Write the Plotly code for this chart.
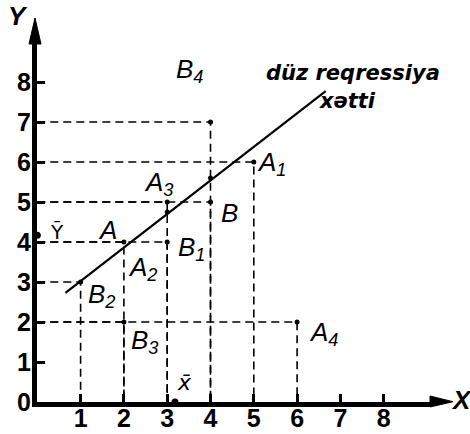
import plotly.graph_objects as go

# ---- data ----
point_names = ["B4", "A1", "B", "A3", "A", "B1", "B2", "B3", "A4"]
point_x = [4, 5, 4, 3, 2, 3, 1, 2, 6]
point_y = [7, 6, 5, 5, 4, 4, 3, 2, 2]

line_x = [0.65, 6.66]
line_y = [2.73, 7.77]

fitted_x = [3, 4]
fitted_y = [4.75, 5.6]

mean_x = 3.18
mean_y = 4.17

x_ticks = [1, 2, 3, 4, 5, 6, 7, 8]
y_ticks = [0, 1, 2, 3, 4, 5, 6, 7, 8]

# label texts and their placement (layout, not data)
label_text = {
    "B4": "<i>B</i><sub><i>4</i></sub>",
    "A1": "<i>A</i><sub><i>1</i></sub>",
    "B": "<i>B</i>",
    "A3": "<i>A</i><sub><i>3</i></sub>",
    "A": "<i>A</i>",
    "B1": "<i>B</i><sub><i>1</i></sub>",
    "B2": "<i>B</i><sub><i>2</i></sub>",
    "B3": "<i>B</i><sub><i>3</i></sub>",
    "A4": "<i>A</i><sub><i>4</i></sub>",
    "A2": "<i>A</i><sub><i>2</i></sub>",
}
label_pos = {
    "B4": (3.52, 8.28),
    "A1": (5.42, 5.97),
    "B": (4.44, 4.72),
    "A3": (2.80, 5.47),
    "A": (1.62, 4.29),
    "B1": (3.57, 3.84),
    "B2": (1.49, 2.67),
    "B3": (2.47, 1.52),
    "A4": (6.62, 1.72),
    "A2": (2.42, 3.34),
}

# ---- geometry of the plot area (pixels) ----
W, H = 470, 434
L, R, T, B = 37, 40, 43, 32
PW, PH = W - L - R, H - T - B
x_unit, y_unit = 43.3, 40.0
x0 = -(L - 36.7) / x_unit
x_range = [x0, x0 + PW / x_unit]
y_range = [0, PH / y_unit]

BLACK = "black"
fig = go.Figure()

# dashed drop lines from each point to both axes
for px_, py_ in zip(point_x, point_y):
    fig.add_trace(go.Scatter(
        x=[0, px_, px_], y=[py_, py_, 0], mode="lines",
        line=dict(color=BLACK, width=1.6, dash="8px,5px"),
        hoverinfo="skip", showlegend=False))

# regression line
fig.add_trace(go.Scatter(x=line_x, y=line_y, mode="lines",
                         line=dict(color=BLACK, width=2.2), showlegend=False))

# points
fig.add_trace(go.Scatter(x=point_x, y=point_y, mode="markers",
                         marker=dict(color=BLACK, size=5), showlegend=False,
                         cliponaxis=False))
fig.add_trace(go.Scatter(x=fitted_x, y=fitted_y, mode="markers",
                         marker=dict(color=BLACK, size=5), showlegend=False))
fig.add_trace(go.Scatter(x=[mean_x, 0], y=[0, mean_y], mode="markers",
                         marker=dict(color=BLACK, size=7), showlegend=False,
                         cliponaxis=False))

lab_font = dict(family="Liberation Sans, Arial", size=26, color=BLACK)
ann = []
for k, (ax_, ay_) in label_pos.items():
    ann.append(dict(x=ax_, y=ay_, xref="x", yref="y", text=label_text[k],
                    showarrow=False, font=lab_font,
                    xanchor="center", yanchor="middle"))

# means
ann.append(dict(x=mean_x + 0.22, y=0.5, xref="x", yref="y", text="<i>x\u0304</i>",
                showarrow=False, font=dict(family="DejaVu Sans", size=22, color=BLACK),
                xanchor="center", yanchor="middle"))
ann.append(dict(x=0.45, y=mean_y + 0.08, xref="x", yref="y", text="\u0232",
                showarrow=False, font=dict(family="DejaVu Sans", size=20, color=BLACK),
                xanchor="center", yanchor="middle"))

# regression line label
reg_font = dict(family="DejaVu Sans", size=21, color=BLACK, weight="bold")
ann.append(dict(x=7.3, y=8.22, xref="x", yref="y", text="<i>düz reqressiya</i>",
                showarrow=False, font=reg_font, xanchor="center", yanchor="middle"))
ann.append(dict(x=7.17, y=7.52, xref="x", yref="y", text="<i>xətti</i>",
                showarrow=False, font=reg_font, xanchor="center", yanchor="middle"))

# axis names
ax_font = dict(family="Liberation Sans, Arial", size=26, color=BLACK, weight="bold")
ann.append(dict(x=(18 - L) / PW, y=(H - B - 16) / PH, xref="paper", yref="paper",
                text="<i>Y</i>", showarrow=False, font=ax_font,
                xanchor="center", yanchor="middle"))
ann.append(dict(x=(461 - L) / PW, y=(H - B - 400) / PH, xref="paper", yref="paper",
                text="<i>X</i>", showarrow=False, font=ax_font,
                xanchor="center", yanchor="middle"))


def px2paper(px, py):
    return (px - L) / PW, (H - B - py) / PH


# arrowheads
ya = [px2paper(35, 18), px2paper(29, 44), px2paper(41, 44)]
xa = [px2paper(453, 401.7), px2paper(430, 396), px2paper(430, 407)]
shapes = []
for tri in (ya, xa):
    path = "M {} {} L {} {} L {} {} Z".format(tri[0][0], tri[0][1], tri[1][0], tri[1][1],
                                             tri[2][0], tri[2][1])
    shapes.append(dict(type="path", xref="paper", yref="paper", path=path,
                       fillcolor=BLACK, line=dict(color=BLACK, width=1)))

tick_font = dict(family="Liberation Sans, Arial", size=25, color=BLACK, weight="bold")
fig.update_layout(
    template="none",
    width=W, height=H,
    margin=dict(l=L, r=R, t=T, b=B, pad=0, autoexpand=False),
    paper_bgcolor="white", plot_bgcolor="white",
    showlegend=False,
    annotations=ann, shapes=shapes,
    xaxis=dict(range=x_range, tickvals=x_ticks, ticktext=[str(v) for v in x_ticks],
               ticks="inside", ticklen=8, tickwidth=2.5, tickcolor=BLACK,
               showline=True, linecolor=BLACK, linewidth=5, showgrid=False,
               zeroline=False, tickfont=tick_font, ticklabelstandoff=-10,
               automargin=False),
    yaxis=dict(range=y_range, tickvals=y_ticks, ticktext=[str(v) for v in y_ticks],
               ticks="inside", ticklen=8, tickwidth=2.5, tickcolor=BLACK,
               showline=True, linecolor=BLACK, linewidth=5, showgrid=False,
               zeroline=False, tickfont=tick_font, ticklabelstandoff=-4,
               automargin=False),
)

fig.write_html("out.html", config={"displayModeBar": False},
               post_script="document.body.style.margin='0';document.body.style.overflow='hidden';")
